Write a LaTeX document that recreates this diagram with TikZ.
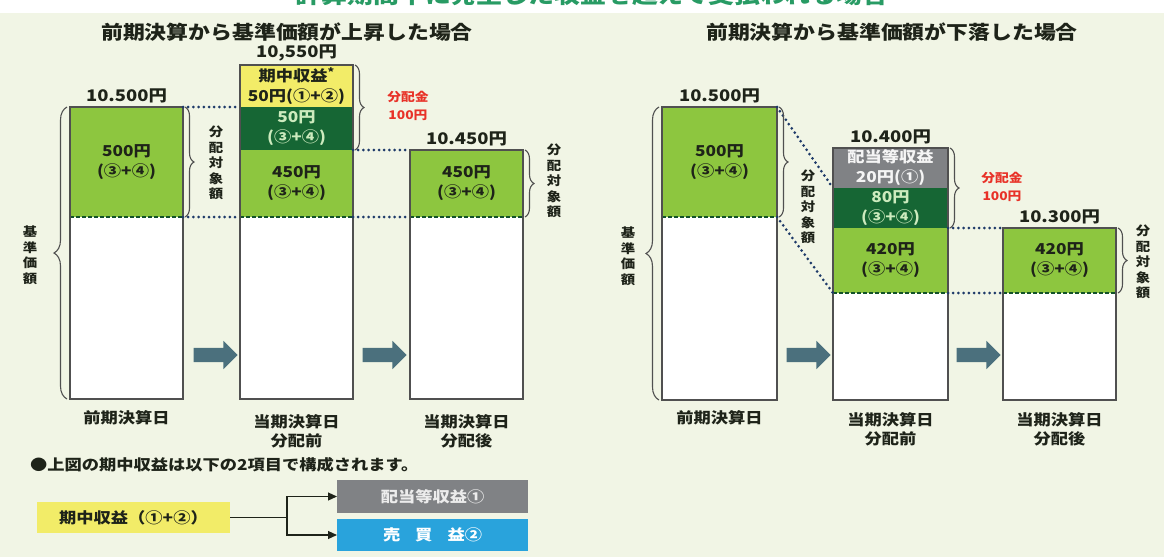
\documentclass[tikz,border=0pt]{standalone}
\usepackage{fontspec}
\setmainfont{Noto Sans CJK JP}[FakeStretch=1.15]
\usetikzlibrary{decorations.pathreplacing,shapes.arrows,arrows.meta}
\definecolor{bgc}{RGB}{241,245,229}
\definecolor{lgr}{RGB}{141,198,63}
\definecolor{dgr}{RGB}{22,102,52}
\definecolor{ylw}{RGB}{242,236,104}
\definecolor{gry}{RGB}{128,130,133}
\definecolor{blu}{RGB}{41,163,220}
\definecolor{redt}{RGB}{232,50,40}
\definecolor{navy}{RGB}{30,58,105}
\definecolor{edge}{RGB}{80,80,80}
\definecolor{arr}{RGB}{75,112,125}
\definecolor{ttl}{RGB}{40,155,100}
\definecolor{dgtext}{RGB}{205,235,190}
\definecolor{ink}{RGB}{30,35,25}
\newcommand{\mkseg}[7]{\node[segs,#6,minimum width={#4-#2},minimum height={#5-#3}] (#1) at ({(#2+#4)/2},{(#3+#5)/2}) {#7};}
\begin{document}
\begin{tikzpicture}[x=1pt,y=-1pt,
  segs/.style={rectangle,inner sep=0pt,outer sep=0pt,draw=none,align=center,text=ink,font=\fontsize{15}{20}\selectfont\bfseries},
  edgeline/.style={draw=edge,line width=1.4pt},
  dots/.style={draw=navy,line width=3pt,dash pattern=on 0pt off 5.2pt,line cap=round},
  dsh/.style={draw=dgr!80!black,line width=1.3pt,dash pattern=on 3.5pt off 2.5pt},
  brc/.style={draw=edge,line width=1.1pt,decorate,decoration={brace,amplitude=9pt}},
  bigbrc/.style={draw=edge,line width=1.1pt,decorate,decoration={brace,amplitude=13pt}},
  val/.style={font=\fontsize{16}{16}\selectfont\bfseries,text=ink,inner sep=0pt},
  vlab/.style={font=\fontsize{12.5}{15.5}\selectfont\bfseries,text=ink,align=center,inner sep=0pt},
  redl/.style={font=\fontsize{12}{18}\selectfont\bfseries,text=redt,align=center,inner sep=0pt},
  botl/.style={font=\fontsize{15}{19}\selectfont\bfseries,text=ink,align=center,inner sep=0pt},
  subt/.style={font=\fontsize{19}{19}\selectfont\bfseries,text=ink,inner sep=0pt},
  bigarrow/.style={single arrow,fill=arr,draw=none,minimum height=44pt,minimum width=28pt,single arrow head extend=7pt,single arrow head indent=0pt,inner xsep=0pt,inner ysep=7pt},
  leg/.style={font=\fontsize{15}{15}\selectfont\bfseries,inner sep=0pt}
]
\useasboundingbox (0,0) rectangle (1164,557);
\clip (0,0) rectangle (1164,557);
\fill[white] (0,0) rectangle (1164,557);
\fill[bgc] (0,13) rectangle (1164,557);
\node[font=\fontsize{22.5}{22.5}\selectfont\bfseries,text=ttl,anchor=base,inner sep=0pt] (title) at (592,3) {計算期間中に発生した収益を超えて支払われる場合};

\node[subt] (subL) at (287,32) {前期決算から基準価額が上昇した場合};
\node[subt] (subR) at (892,32) {前期決算から基準価額が下落した場合};

% ---------- left panel ----------
\mkseg{L1}{70}{107}{183}{399}{fill=white}{}
\mkseg{L1g}{70}{107}{183}{217}{fill=lgr}{500円\\(③+④)}
\mkseg{L2}{240}{65}{353}{399}{fill=white}{}
\mkseg{L2y}{240}{65}{353}{107}{fill=ylw}{期中収益\raisebox{0.3em}{\fontsize{11}{11}\selectfont *}\\50円(①+②)}
\mkseg{L2d}{240}{107}{353}{150}{fill=dgr,text=dgtext}{50円\\(③+④)}
\mkseg{L2g}{240}{150}{353}{217}{fill=lgr}{450円\\(③+④)}
\mkseg{L3}{410}{150}{523}{399}{fill=white}{}
\mkseg{L3g}{410}{150}{523}{217}{fill=lgr}{450円\\(③+④)}
\foreach \n in {L1g,L2g,L3g} \draw[dsh] (\n.south west) -- (\n.south east);
\foreach \n in {L1,L2,L3} \draw[edgeline] (\n.north west) rectangle (\n.south east);

\draw[dots] (L1g.north east) -- (L2d.north west);
\draw[dots] (L1g.south east) -- (L2g.south west);
\draw[dots] (L2g.north east) -- (L3g.north west);
\draw[dots] (L2g.south east) -- (L3g.south west);

\node[val,anchor=south] (vL1) at ([yshift=4pt]L1.north) {10.500円};
\node[val,anchor=south] (vL2) at ([yshift=4pt]L2.north) {10,550円};
\node[val,anchor=south] (vL3) at ([yshift=4pt]L3.north) {10.450円};

\draw[bigbrc] ([xshift=-3pt]L1.south west) -- ([xshift=-3pt]L1.north west);
\draw[brc] ([xshift=2pt]L1g.north east) -- ([xshift=2pt]L1g.south east);
\draw[brc] ([xshift=2pt]L2y.north east) -- ([xshift=2pt]L2d.south east);
\draw[brc] ([xshift=2pt]L3g.north east) -- ([xshift=2pt]L3g.south east);

\node[vlab] (kL) at (30,255) {基\\準\\価\\額};
\node[vlab] (bL1) at (216,163) {分\\配\\対\\象\\額};
\node[vlab] (bL3) at (554,181) {分\\配\\対\\象\\額};
\node[redl] (rL) at (408,106) {分配金\\100円};

\node[bigarrow] (aL1) at (212,355) {};
\node[bigarrow] (aL2) at (381,355) {};

\node[botl] (dL1) at (126.5,418) {前期決算日};
\node[botl] (dL2) at (296.5,431) {当期決算日\\分配前};
\node[botl] (dL3) at (466.5,431) {当期決算日\\分配後};

% ---------- right panel ----------
\mkseg{R1}{662}{107}{777}{400}{fill=white}{}
\mkseg{R1g}{662}{107}{777}{217}{fill=lgr}{500円\\(③+④)}
\mkseg{R2}{833}{148}{948}{400}{fill=white}{}
\mkseg{R2a}{833}{148}{948}{188}{fill=gry,text=white!92!gray}{配当等収益\\20円(①)}
\mkseg{R2d}{833}{188}{948}{228}{fill=dgr,text=dgtext}{80円\\(③+④)}
\mkseg{R2g}{833}{228}{948}{293}{fill=lgr}{420円\\(③+④)}
\mkseg{R3}{1003}{228}{1116}{400}{fill=white}{}
\mkseg{R3g}{1003}{228}{1116}{293}{fill=lgr}{420円\\(③+④)}
\foreach \n in {R1g,R2g,R3g} \draw[dsh] (\n.south west) -- (\n.south east);
\foreach \n in {R1,R2,R3} \draw[edgeline] (\n.north west) rectangle (\n.south east);

\draw[dots] (R1g.north east) -- (R2d.north west);
\draw[dots] (R1g.south east) -- (R2g.south west);
\draw[dots] (R2g.north east) -- (R3g.north west);
\draw[dots] (R2g.south east) -- (R3g.south west);

\node[val,anchor=south] (vR1) at ([yshift=4pt]R1.north) {10.500円};
\node[val,anchor=south] (vR2) at ([yshift=4pt]R2.north) {10.400円};
\node[val,anchor=south] (vR3) at ([yshift=4pt]R3.north) {10.300円};

\draw[bigbrc] ([xshift=-3pt]R1.south west) -- ([xshift=-3pt]R1.north west);
\draw[brc] ([xshift=2pt]R1g.north east) -- ([xshift=2pt]R1g.south east);
\draw[brc] ([xshift=2pt]R2a.north east) -- ([xshift=2pt]R2d.south east);
\draw[brc] ([xshift=2pt]R3g.north east) -- ([xshift=2pt]R3g.south east);

\node[vlab] (kR) at (628,256) {基\\準\\価\\額};
\node[vlab] (bR1) at (808,207) {分\\配\\対\\象\\額};
\node[vlab] (bR3) at (1143,262) {分\\配\\対\\象\\額};
\node[redl] (rR) at (1002,187) {分配金\\100円};

\node[bigarrow] (aR1) at (805,355) {};
\node[bigarrow] (aR2) at (975,355) {};

\node[botl] (dR1) at (719.5,418) {前期決算日};
\node[botl] (dR2) at (890.5,429) {当期決算日\\分配前};
\node[botl] (dR3) at (1059.5,429) {当期決算日\\分配後};

% ---------- legend ----------
\node[leg,text=ink,anchor=west] (note) at (30,465) {●上図の期中収益は以下の2項目で構成されます。};
\mkseg{LY}{37}{502}{230}{533}{fill=ylw,font=\fontsize{15}{15}\selectfont\bfseries}{期中収益（①+②）}
\mkseg{LG}{337}{480}{528}{513}{fill=gry,text=white!85!gray,font=\fontsize{15}{15}\selectfont\bfseries}{配当等収益①}
\mkseg{LB}{337}{519}{528}{551}{fill=blu,text=white,font=\fontsize{15}{15}\selectfont\bfseries}{売\quad 買\quad 益②}
\coordinate (split) at (287,517.5);
\draw[draw=ink,line width=1.2pt] (LY.east) -- (split);
\draw[draw=ink,line width=1.2pt,-{Triangle[length=9pt,width=8pt]}] (split) |- (LG.west);
\draw[draw=ink,line width=1.2pt,-{Triangle[length=9pt,width=8pt]}] (split) |- (LB.west);
\end{tikzpicture}
\end{document}
